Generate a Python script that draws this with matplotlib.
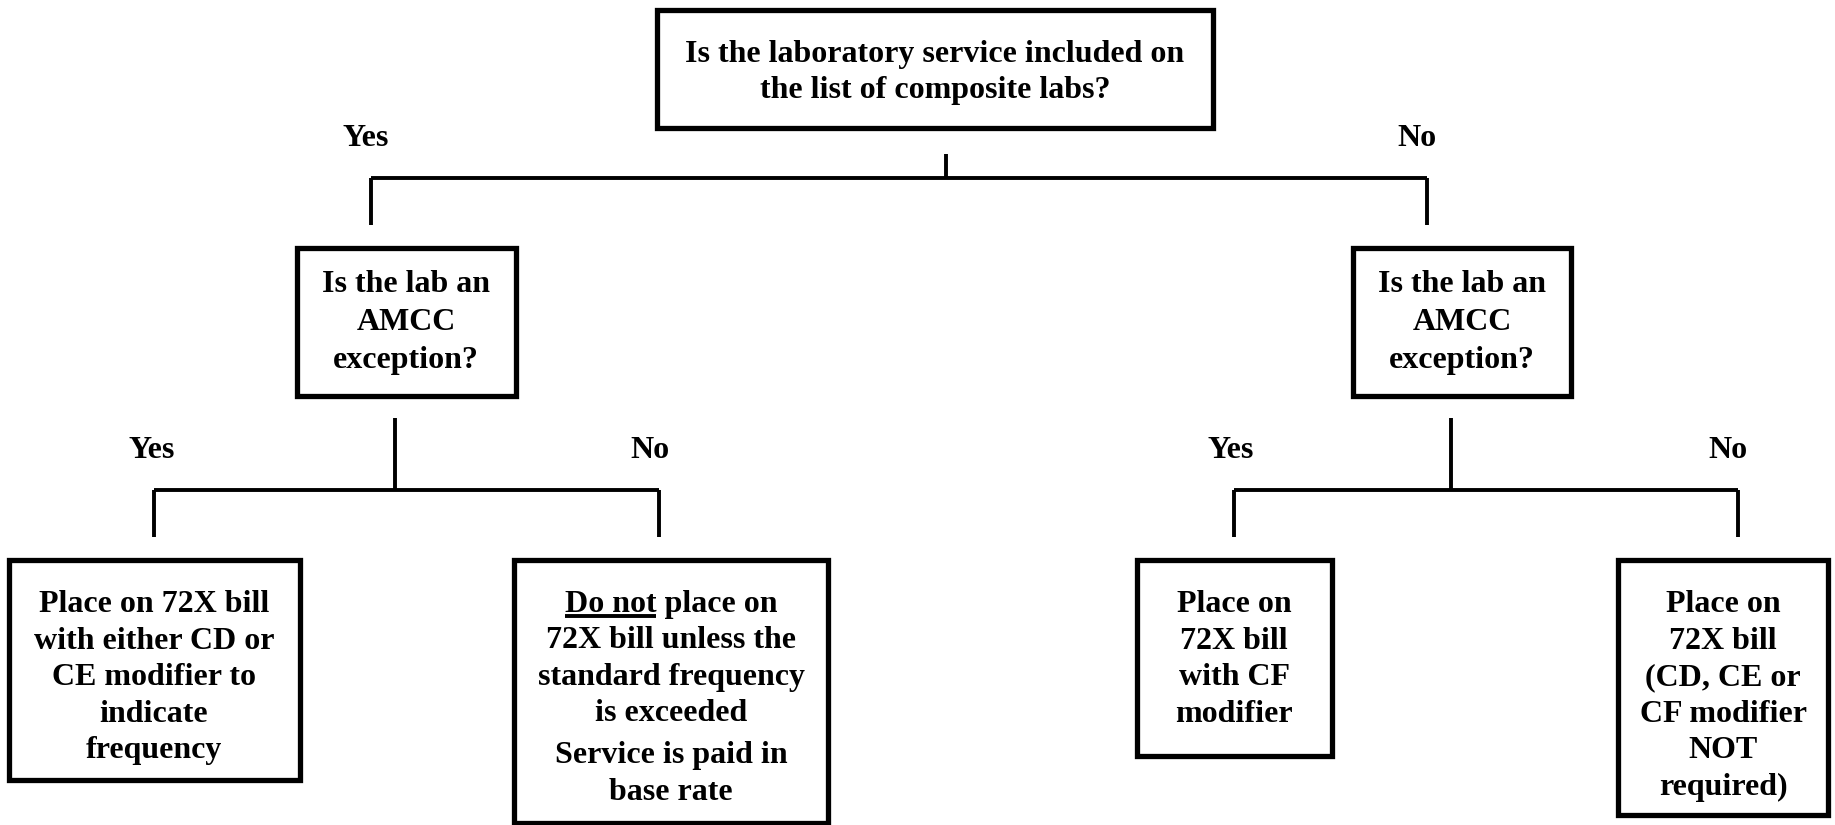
import matplotlib
matplotlib.use("Agg")
import matplotlib.pyplot as plt
from matplotlib.patches import Rectangle

plt.rcParams['font.family'] = ['Liberation Serif', 'DejaVu Serif']

# box texts
top_q = ["Is the laboratory service included on", "the list of composite labs?"]
amcc_q = ["Is the lab an", "AMCC", "exception?"]
ll_txt = ["Place on 72X bill", "with either CD or", "CE modifier to", "indicate", "frequency"]
lr_txt1 = ["Do not place on", "72X bill unless the", "standard frequency", "is exceeded"]
lr_txt2 = ["Service is paid in", "base rate"]
rl_txt = ["Place on", "72X bill", "with CF", "modifier"]
rr_txt = ["Place on", "72X bill", "(CD, CE or", "CF modifier", "NOT", "required)"]
underlined = "Do not"
yes_lbl, no_lbl = "Yes", "No"

W, H = 1835, 825
fig = plt.figure(figsize=(W / 100, H / 100), dpi=100)
ax = fig.add_axes([0, 0, 1, 1])
ax.set_xlim(0, W)
ax.set_ylim(H, 0)
ax.axis('off')

FS = 23
BOX_LW = 3.8
LINE_LW = 2.8


def box(l, t, r, b):
    ax.add_patch(Rectangle((l, t), r - l, b - t, fill=False, lw=BOX_LW, ec='black'))


def lines(x, y0, step, txts):
    out = []
    for i, s in enumerate(txts):
        out.append(ax.text(x, y0 + i * step + 10, s, ha='center', va='baseline',
                           fontsize=FS, fontweight='bold'))
    return out


def label(x, y, s):
    ax.text(x, y + 10, s, ha='center', va='baseline', fontsize=FS, fontweight='bold')


def seg(xs, ys):
    ax.plot(xs, ys, color='black', lw=LINE_LW, solid_capstyle='butt')


def fork(xs, y_top, y_mid, xl, xr, y_bot):
    seg([xs, xs], [y_top, y_mid])
    seg([xl, xr], [y_mid, y_mid])
    seg([xl, xl], [y_mid, y_bot])
    seg([xr, xr], [y_mid, y_bot])


# top question
box(657, 10, 1213, 128)
lines(935, 52, 36, top_q)
fork(946, 154, 178, 371, 1427, 225)
label(366, 136, yes_lbl)
label(1417, 136, no_lbl)

# AMCC questions
box(297, 248, 516, 396)
lines(406, 282, 38, amcc_q)
box(1353, 248, 1571, 396)
lines(1462, 282, 38, amcc_q)

fork(395, 418, 490, 154, 659, 537)
label(152, 448, yes_lbl)
label(650, 448, no_lbl)
fork(1451, 418, 490, 1234, 1738, 537)
label(1231, 448, yes_lbl)
label(1728, 448, no_lbl)

# outcomes
box(9, 560, 300, 780)
lines(154, 602, 36.6, ll_txt)

box(514, 560, 828, 823)
first = lines(671, 602, 36.3, lr_txt1)[0]
lines(671, 753, 37, lr_txt2)

box(1137, 560, 1332, 756)
lines(1234, 602, 36.7, rl_txt)

box(1618, 560, 1828, 815)
lines(1723, 602, 36.6, rr_txt)

# underline "Do not"
fig.canvas.draw()
rend = fig.canvas.get_renderer()
bb = first.get_window_extent(rend)
tmp = ax.text(0, 0, underlined, fontsize=FS, fontweight='bold')
wpx = tmp.get_window_extent(rend).width
tmp.remove()
inv = ax.transData.inverted()
x0 = inv.transform((bb.x0, 0))[0]
x1 = inv.transform((bb.x0 + wpx, 0))[0]
seg([x0, x1], [602 + 14, 602 + 14])

fig.savefig("out.png", dpi=100)
